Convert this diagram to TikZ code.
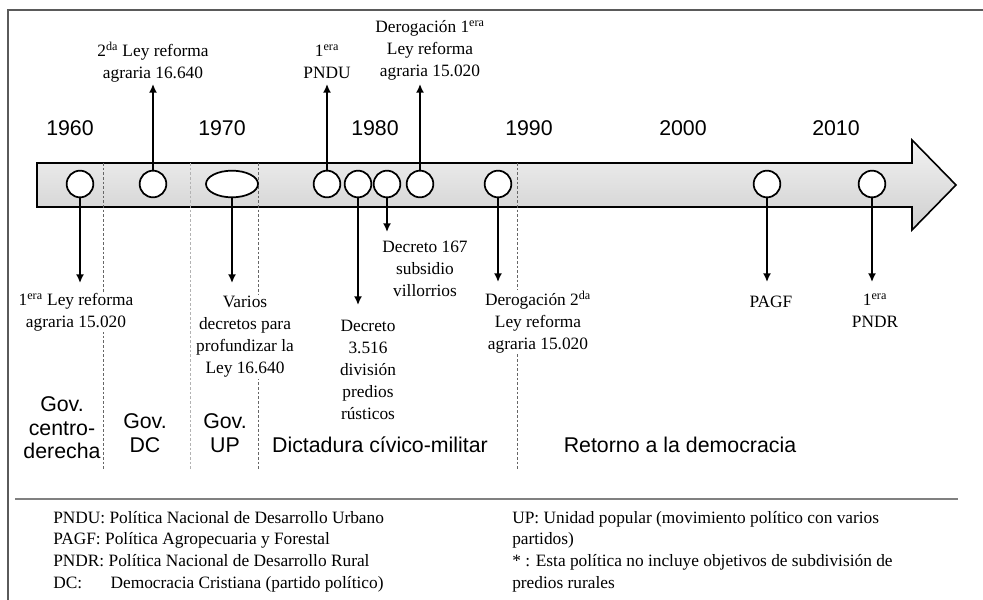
\documentclass[tikz,border=0pt]{standalone}
\usepackage{fontspec}
\setmainfont{Liberation Serif}
\setsansfont{Liberation Sans}
\usetikzlibrary{shapes.geometric,arrows.meta}
\definecolor{marco}{RGB}{90,90,90}

\tikzset{
  hito/.style={circle,draw,fill=white,line width=1.3pt,minimum size=20pt,inner sep=0pt},
  flecha/.style={line width=1.3pt,-{Latex[length=6.5pt,width=6pt]}},
  evento/.style={font=\fontsize{13}{16.5}\selectfont,align=center,inner sep=1pt},
  anio/.style={font=\sffamily\fontsize{16}{18}\selectfont},
  periodo/.style={font=\sffamily\fontsize{16}{17.6}\selectfont,align=center},
  corte/.style={dash pattern=on 2pt off 1.5pt,black!60,line width=0.6pt},
  nota/.style={font=\fontsize{13}{16.2}\selectfont,align=left,anchor=north west,inner sep=0pt}
}

\begin{document}
\begin{tikzpicture}[x=0.75pt,y=-0.75pt]
	\useasboundingbox (0,0) rectangle (983,600);
	
	% marco
	\draw[line width=1pt,marco] (983,10) -- (8,10) -- (8,600);
	\draw[line width=1.5pt,gray] (15,499) -- (958,499);
	
	% flecha del tiempo
	\draw[line width=1.2pt,top color=gray!10,bottom color=gray!38]
		(37,163) -- (912,163) -- (912,140) -- (956,185) -- (912,230) -- (912,207) -- (37,207) -- cycle;
	
	% cortes entre periodos
	\foreach \x in {103,258,517}
		\draw[corte] (\x,163) -- (\x,470);
	\draw[corte,black!30] (190,163) -- (190,470);
	
	% anios
	\node[anio] (y1960) at (70,128) {1960};
	\node[anio] (y1970) at (222,128) {1970};
	\node[anio] (y1980) at (375,128) {1980};
	\node[anio] (y1990) at (529,128) {1990};
	\node[anio] (y2000) at (683,128) {2000};
	\node[anio] (y2010) at (836,128) {2010};
	
	% hitos
	\node[hito] (c1) at (80,184) {};
	\node[hito] (c2) at (153,184) {};
	\node[ellipse,draw,fill=white,line width=1.3pt,minimum width=39pt,minimum height=20pt] (c3) at (232,184) {};
	\node[hito] (c4) at (327,184) {};
	\node[hito] (c5) at (358,184) {};
	\node[hito] (c6) at (387,184) {};
	\node[hito] (c7) at (420,184) {};
	\node[hito] (c8) at (498,184) {};
	\node[hito] (c9) at (767,184) {};
	\node[hito] (c10) at (872,184) {};
	
	\coordinate (a1) at (80,283);
	\coordinate (a2) at (153,84);
	\coordinate (a3) at (232,283);
	\coordinate (a4) at (327,84);
	\coordinate (a5) at (358,305);
	\coordinate (a6) at (387,232);
	\coordinate (a7) at (420,84);
	\coordinate (a8) at (498,282);
	\coordinate (a9) at (767,282);
	\coordinate (a10) at (872,282);
	
	\foreach \i in {1,...,10}
		\draw[flecha] (c\i) -- (a\i);
	
	% textos de los hitos
	\node[evento,fill=white] (t1) at (76,312) {1\textsuperscript{era} Ley reforma\\agraria 15.020};
	\node[evento] (t2) at (153,62) {2\textsuperscript{da} Ley reforma\\agraria 16.640};
	\node[evento,fill=white] (t3) at (245,337) {Varios\\decretos para\\profundizar la\\Ley 16.640};
	\node[evento] (t4) at (327,62) {1\textsuperscript{era}\\PNDU};
	\node[evento] (t5) at (368,370) {Decreto\\3.516\\división\\predios\\rústicos};
	\node[evento] (t6) at (425,269) {Decreto 167\\subsidio\\villorrios};
	\node[evento] (t7) at (430,50) {Derogación 1\textsuperscript{era}\\Ley reforma\\agraria 15.020};
	\node[evento,fill=white] (t8) at (538,322) {Derogación 2\textsuperscript{da}\\Ley reforma\\agraria 15.020};
	\node[evento] (t9) at (771,302) {PAGF};
	\node[evento] (t10) at (875,311) {1\textsuperscript{era}\\PNDR};
	
	% periodos
	\node[periodo] (g1) at (62,428) {Gov.\\centro-\\derecha};
	\node[periodo] (g2) at (145,433) {Gov.\\DC};
	\node[periodo] (g3) at (225,433) {Gov.\\UP};
	\node[periodo] (g4) at (380,445) {Dictadura cívico-militar};
	\node[periodo] (g5) at (680,445) {Retorno a la democracia};
	
	% notas
	\node[nota] (n1) at (53,511) {PNDU: Política Nacional de Desarrollo Urbano\\
		PAGF: Política Agropecuaria y Forestal\\
		PNDR: Política Nacional de Desarrollo Rural\\
		\makebox[43pt][l]{DC:}Democracia Cristiana (partido político)};
	\node[nota] (n2) at (512,511) {UP: Unidad popular (movimiento político con varios\\
		partidos)\\
		* : Esta política no incluye objetivos de subdivisión de\\
		predios rurales};
\end{tikzpicture}
\end{document}
